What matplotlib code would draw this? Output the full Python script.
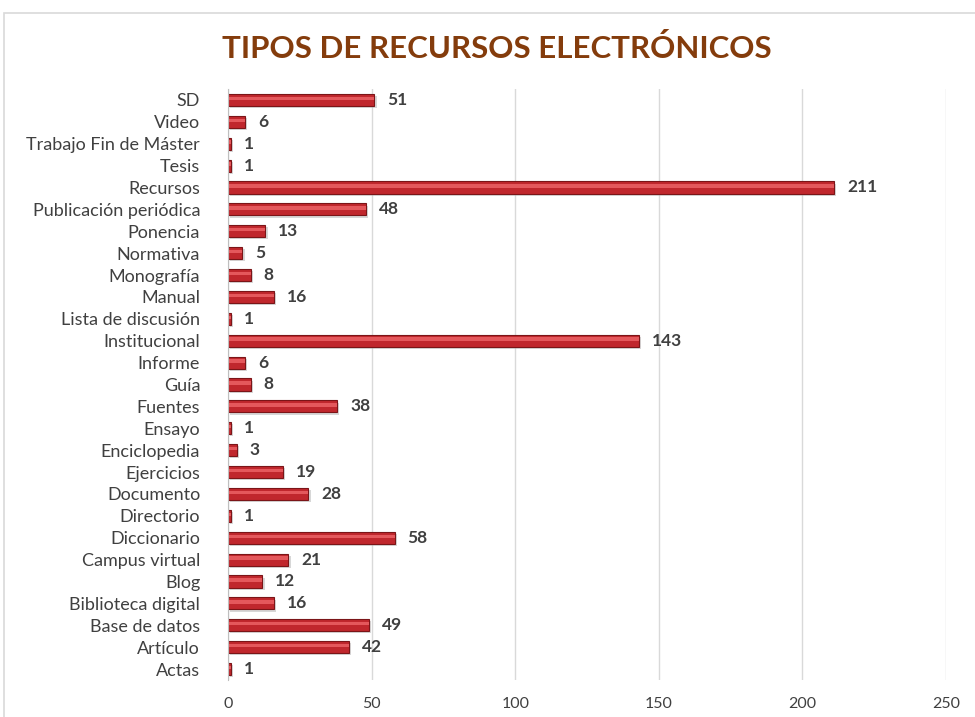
import matplotlib.pyplot as plt
from matplotlib.patches import Rectangle

categories = ['Actas', 'Artículo', 'Base de datos', 'Biblioteca digital', 'Blog',
              'Campus virtual', 'Diccionario', 'Directorio', 'Documento', 'Ejercicios',
              'Enciclopedia', 'Ensayo', 'Fuentes', 'Guía', 'Informe', 'Institucional',
              'Lista de discusión', 'Manual', 'Monografía', 'Normativa', 'Ponencia',
              'Publicación periódica', 'Recursos', 'Tesis', 'Trabajo Fin de Máster',
              'Video', 'SD']
values = [1, 42, 49, 16, 12, 21, 58, 1, 28, 19, 3, 1, 38, 8, 6, 143, 1, 16, 8, 5,
          13, 48, 211, 1, 1, 6, 51]
xticks = [0, 50, 100, 150, 200, 250]

plt.rcParams['font.family'] = ['Lato', 'DejaVu Sans']

fig = plt.figure(figsize=(9.75, 7.17), dpi=100)
ax = fig.add_axes([0.2338, 0.0516, 0.7365, 0.8243])

# chart border
fig.patches.append(Rectangle((4 / 975, -0.1), 1.2, 1 - 13 / 717 + 0.1,
                             transform=fig.transFigure, fill=False,
                             edgecolor='#d9d9d9', linewidth=1.2))

pos = list(range(len(categories)))
h = 0.55
# shadow
ax.barh([p - 0.1 for p in pos], values, height=h, left=0.8, color='#b0b0b0',
        alpha=0.5, zorder=2)
# main bar
ax.barh(pos, values, height=h, color='#c0272d', edgecolor='#7b1518',
        linewidth=0.8, zorder=3)
# highlight
ax.barh([p + 0.07 for p in pos], values, height=h * 0.28, color='#e4585c',
        linewidth=0, zorder=4)

for p, v in zip(pos, values):
    ax.text(v + 4.5, p, str(v), va='center', ha='left', fontsize=12.5,
            fontweight='bold', color='#404040')

ax.set_xlim(0, 250)
ax.set_ylim(-0.5, len(categories) - 0.5)
ax.set_yticks(pos)
ax.set_yticklabels(categories, fontsize=13, color='#404040')
ax.set_xticks(xticks)
ax.set_xticklabels([str(t) for t in xticks], fontsize=11.5, color='#404040')
ax.tick_params(axis='both', length=0)
ax.tick_params(axis='x', pad=12)
ax.tick_params(axis='y', pad=20)

ax.grid(axis='x', color='#d9d9d9', linewidth=1, zorder=0)
ax.set_axisbelow(True)
for s in ['top', 'right', 'bottom']:
    ax.spines[s].set_visible(False)
ax.spines['left'].set_color('#bfbfbf')
ax.spines['left'].set_zorder(5)

fig.text(0.51, 0.933, 'TIPOS DE RECURSOS ELECTRÓNICOS', ha='center', va='center',
         fontsize=22.5, fontweight='bold', color='#843c0c')

plt.savefig('out.png', dpi=100)
